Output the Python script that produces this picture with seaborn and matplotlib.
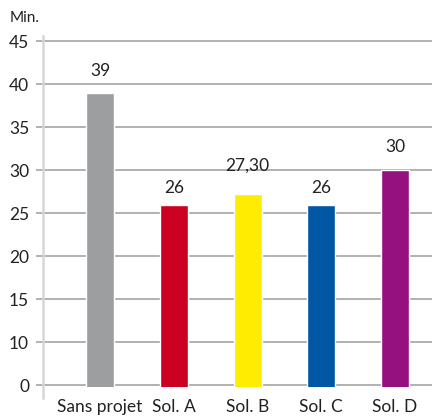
import matplotlib
matplotlib.use("Agg")
import matplotlib.pyplot as plt
import pandas as pd
import seaborn as sns

categories = ["Sans projet", "Sol. A", "Sol. B", "Sol. C", "Sol. D"]
minutes = [39, 26, 27.3, 26, 30]
value_labels = ["39", "26", "27,30", "26", "30"]
colors = ["#9d9ea0", "#cc0020", "#ffec00", "#0057a3", "#951180"]
# the original axis has no "5" tick: the "0" label sits where 5 would be
ytick_values = [5, 10, 15, 20, 25, 30, 35, 40, 45]
ytick_labels = ["0", "10", "15", "20", "25", "30", "35", "40", "45"]

sns.set_style("white")
plt.rcParams["font.family"] = ["Lato", "DejaVu Sans"]

df = pd.DataFrame({"cat": categories, "min": minutes})

fig = plt.figure(figsize=(4.32, 4.17), dpi=100)
ax = fig.add_axes([43 / 432, 0.071, 1 - 43 / 432, 0.8504])

sns.barplot(data=df, x="cat", y="min", hue="cat", palette=colors,
            saturation=1, width=0.38, legend=False, ax=ax, zorder=3)

ax.set_ylim(4.75, 46.0)
ax.set_xlim(-0.773, 4.5)
ax.set_yticks(ytick_values, ytick_labels)
ax.yaxis.grid(True, color="#ababab", linewidth=1.3, zorder=0)
ax.set_axisbelow(True)

for s in ["top", "right", "bottom"]:
    ax.spines[s].set_visible(False)
ax.spines["left"].set_color("#d6d6d6")
ax.spines["left"].set_linewidth(1.8)
ax.spines["left"].set_bounds(3.5, 45.6)

ax.tick_params(axis="y", which="major", direction="out", length=5,
               width=1.3, color="#ababab", pad=5, labelsize=12.5,
               labelcolor="#222222", left=True)
ax.tick_params(axis="x", length=0, pad=8, labelsize=12.5, labelcolor="#222222")
ax.set_xlabel("")
ax.set_ylabel("")

label_pad = [10, 6, 14, 6, 11]
for bar, txt, p in zip(ax.patches, value_labels, label_pad):
    ax.annotate(txt, (bar.get_x() + bar.get_width() / 2, bar.get_height()),
                xytext=(0, p), textcoords="offset points",
                ha="center", va="bottom", fontsize=12.5, color="#222222")

fig.text(10 / 432, 1 - 18 / 417, "Min.", fontsize=11, color="#222222",
         ha="left", va="center")

fig.savefig("out.png", dpi=100)
